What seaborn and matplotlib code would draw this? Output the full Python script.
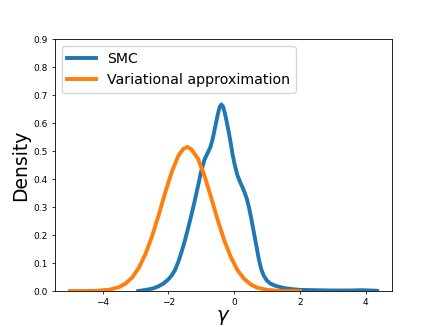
import matplotlib
matplotlib.use("Agg")
import seaborn as sns
from matplotlib import pyplot as plt

# SMC posterior density for gamma
smc_x = [-2.92, -2.75, -2.6, -2.45, -2.3, -2.15, -2.0, -1.9, -1.8, -1.7, -1.6, -1.5,
         -1.4, -1.3, -1.2, -1.1, -1.0, -0.9, -0.8, -0.72, -0.65, -0.58, -0.5, -0.44,
         -0.39, -0.34, -0.28, -0.2, -0.12, -0.05, 0.02, 0.1, 0.18, 0.25, 0.32, 0.38,
         0.45, 0.52, 0.6, 0.68, 0.75, 0.82, 0.9, 1.0, 1.1, 1.25, 1.5, 1.75, 2.0, 2.5,
         3.0, 3.5, 3.9, 4.35]
smc_y = [0.0, 0.003, 0.006, 0.010, 0.017, 0.027, 0.042, 0.056, 0.075, 0.104, 0.140, 0.180,
         0.225, 0.272, 0.322, 0.375, 0.43, 0.47, 0.495, 0.515, 0.545, 0.585, 0.63, 0.658,
         0.667, 0.660, 0.635, 0.59, 0.54, 0.49, 0.45, 0.414, 0.39, 0.372, 0.352, 0.332,
         0.30, 0.26, 0.21, 0.16, 0.115, 0.08, 0.055, 0.037, 0.027, 0.019, 0.011, 0.007, 0.004, 0.003,
         0.002, 0.002, 0.003, 0.001]

# variational approximation density
vi_x = [-5.0, -4.6, -4.2, -3.8, -3.5, -3.3, -3.1, -2.9, -2.7, -2.5, -2.3, -2.1, -1.9,
        -1.7, -1.55, -1.42, -1.3, -1.1, -0.9, -0.7, -0.5, -0.3, -0.1, 0.1, 0.3, 0.5,
        0.7, 1.0, 1.4, 2.0]
vi_y = [0.0, 0.0001, 0.0008, 0.0046, 0.014, 0.027, 0.049, 0.083, 0.132, 0.195, 0.270,
        0.351, 0.425, 0.483, 0.508, 0.515, 0.506, 0.473, 0.411, 0.334, 0.254, 0.181,
        0.121, 0.075, 0.044, 0.024, 0.012, 0.004, 0.0007, 0.0]

plt.rcParams['font.family'] = ['DejaVu Sans']
plt.rcParams['axes.linewidth'] = 0.6
plt.rcParams['xtick.major.size'] = 2.4
plt.rcParams['ytick.major.size'] = 2.4
plt.rcParams['xtick.major.width'] = 0.55
plt.rcParams['ytick.major.width'] = 0.55

fig, ax = plt.subplots(figsize=(4.36, 3.27), dpi=100)
sns.lineplot(x=smc_x, y=smc_y, ax=ax, lw=2.8, color='#1f77b4', label='SMC')
sns.lineplot(x=vi_x, y=vi_y, ax=ax, lw=2.8, color='#ff7f0e', label='Variational approximation')

ax.set_ylim(0, 0.9)
ax.set_yticks([0.0, 0.1, 0.2, 0.3, 0.4, 0.5, 0.6, 0.7, 0.8, 0.9])
ax.set_xticks([-4, -2, 0, 2, 4])
ax.tick_params(labelsize=6.5, pad=2.5)
ax.set_xlabel(r'$\gamma$', fontsize=14, labelpad=1)
ax.set_ylabel('Density', fontsize=13.5, labelpad=2)
ax.legend(loc='upper left', fontsize=10.2)

plt.savefig('out.png', dpi=100)
